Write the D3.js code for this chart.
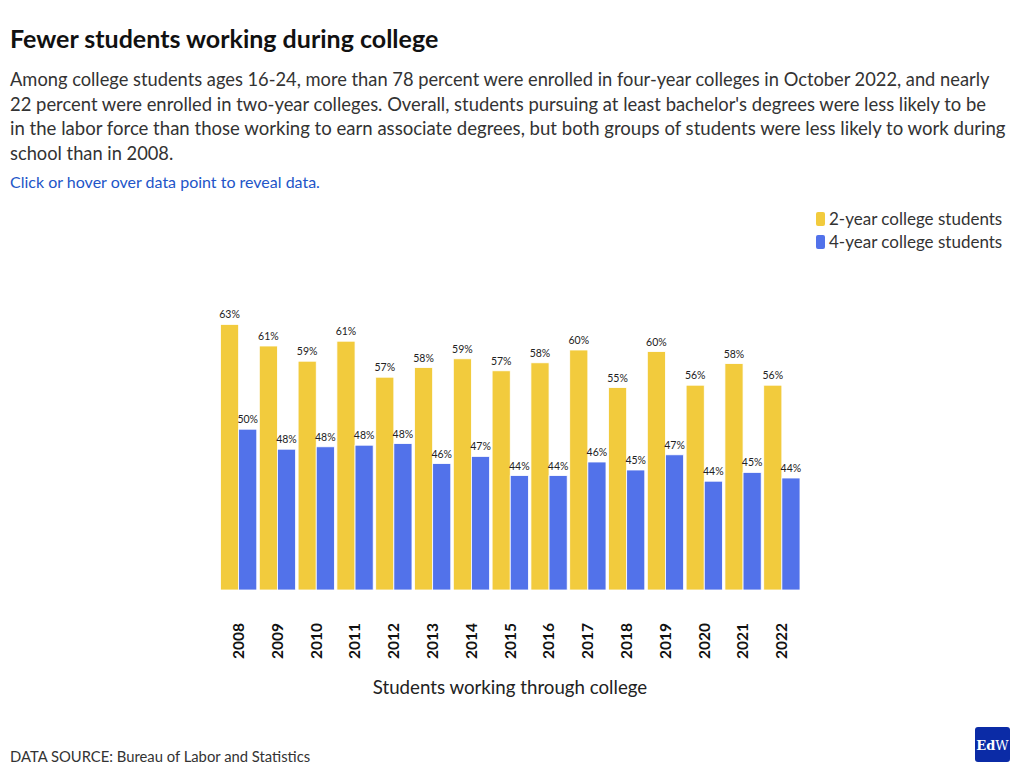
<!DOCTYPE html>
<html>
<head>
<meta charset="utf-8">
<script src="https://cdn.jsdelivr.net/npm/d3@7"></script>
<style>
  html, body { margin: 0; padding: 0; background: #fff; }
  svg { display: block; font-family: "Lato", "Noto Sans", sans-serif; }
</style>
</head>
<body>
<svg id="chart" width="1020" height="776"></svg>
<script>
// ---- data ----
const years = ["2008","2009","2010","2011","2012","2013","2014","2015","2016","2017","2018","2019","2020","2021","2022"];
const seriesNames = ["2-year college students", "4-year college students"];
const twoYear  = [63.2, 60.5, 58.6, 61.1, 56.6, 57.8, 58.9, 57.4, 58.4, 60.0, 55.3, 59.8, 55.6, 58.3, 55.6];
const fourYear = [50.1, 47.6, 47.9, 48.1, 48.3, 45.8, 46.7, 44.3, 44.3, 46.0, 45.0, 46.9, 43.6, 44.7, 44.0];
const yDomain = [30, 65];

const titleText = "Fewer students working during college";
const subtitleLines = [
  "Among college students ages 16-24, more than 78 percent were enrolled in four-year colleges in October 2022, and nearly",
  "22 percent were enrolled in two-year colleges. Overall, students pursuing at least bachelor's degrees were less likely to be",
  "in the labor force than those working to earn associate degrees, but both groups of students were less likely to work during",
  "school than in 2008."
];
const hintText = "Click or hover over data point to reveal data.";
const xTitle = "Students working through college";
const sourceText = "DATA SOURCE: Bureau of Labor and Statistics";

const colors = ["#F2CB3D", "#5272EA"];

const svg = d3.select("#chart");

// ---- header ----
svg.append("text").attr("x", 10).attr("y", 48)
  .attr("font-size", 25).attr("font-weight", 700).attr("fill", "#111")
  .text(titleText);

const sub = svg.append("text").attr("font-size", 18).attr("fill", "#333");
subtitleLines.forEach((l, i) => {
  sub.append("tspan").attr("x", 10).attr("y", 86 + i * 24.7).text(l);
});
// fit line widths to reference wrap
const targetW = [980, 977, 996, 163];
sub.selectAll("tspan").each(function(d, i) {
  const w = this.getComputedTextLength();
  const fs = 18 * targetW[i] / w;
  if (i < 3) d3.select(this).attr("font-size", Math.min(19, fs));
});
const fs0 = d3.select(sub.selectAll("tspan").nodes()[0]).attr("font-size");
d3.select(sub.selectAll("tspan").nodes()[3]).attr("font-size", fs0);

svg.append("text").attr("x", 10).attr("y", 188)
  .attr("font-size", 16).attr("fill", "#2255C8")
  .text(hintText);

// ---- legend ----
const legend = svg.append("g");
seriesNames.forEach((n, i) => {
  const y = 219 + i * 23;
  legend.append("rect").attr("x", 816).attr("y", y - 7).attr("width", 9).attr("height", 14)
    .attr("rx", 2).attr("fill", colors[i]);
  legend.append("text").attr("x", 829).attr("y", y + 6)
    .attr("font-size", 17).attr("fill", "#333").text(n);
});

// ---- scales ----
const x0 = d3.scaleBand().domain(years).range([220.5, 800]).paddingInner(0.065).paddingOuter(0);
const x1 = d3.scaleBand().domain([0, 1]).range([0, x0.bandwidth()]).padding(0);
const y = d3.scaleLinear().domain(yDomain).range([590, 310]);

const data = years.map((yr, i) => ({ year: yr, values: [twoYear[i], fourYear[i]] }));

const groups = svg.append("g").selectAll("g").data(data).join("g")
  .attr("transform", d => `translate(${x0(d.year)},0)`);

groups.selectAll("rect").data(d => d.values.map((v, k) => ({ v, k }))).join("rect")
  .attr("x", d => x1(d.k))
  .attr("y", d => y(d.v))
  .attr("width", x1.bandwidth())
  .attr("height", d => y(yDomain[0]) - y(d.v))
  .attr("fill", d => colors[d.k])
  .attr("stroke", "#fff").attr("stroke-width", 0.8);

groups.selectAll("text.val").data(d => d.values.map((v, k) => ({ v, k }))).join("text")
  .attr("class", "val")
  .attr("x", d => x1(d.k) + x1.bandwidth() / 2)
  .attr("y", d => y(d.v) - 6)
  .attr("text-anchor", "middle")
  .attr("font-size", 10.5).attr("fill", "#222")
  .text(d => Math.round(d.v) + "%");

// ---- x axis ----
const xAxis = svg.append("g").attr("transform", "translate(0,590)")
  .call(d3.axisBottom(x0).tickSize(0).tickPadding(0));
xAxis.select(".domain").remove();
xAxis.selectAll(".tick text")
  .attr("transform", "translate(0,51) rotate(-90)")
  .attr("dy", "0.35em").attr("y", 0).attr("x", 0)
  .attr("text-anchor", "middle")
  .attr("font-family", "Lato, sans-serif")
  .attr("font-size", 15.5).attr("font-weight", 700).attr("fill", "#111");

svg.append("text").attr("x", 510).attr("y", 694)
  .attr("text-anchor", "middle").attr("font-size", 18.7).attr("fill", "#222")
  .text(xTitle);

// ---- footer ----
svg.append("text").attr("x", 10).attr("y", 762)
  .attr("font-size", 14.8).attr("fill", "#333").text(sourceText);

const logo = svg.append("g").attr("transform", "translate(975,727)");
logo.append("rect").attr("width", 35).attr("height", 35).attr("rx", 3).attr("fill", "#0B2BA6");
const lt = logo.append("text").attr("x", 17.5).attr("y", 23).attr("text-anchor", "middle")
  .attr("font-family", "'DejaVu Serif', 'Liberation Serif', serif").attr("font-size", 13).attr("fill", "#fff");
lt.append("tspan").attr("font-weight", 700).text("Ed");
lt.append("tspan").attr("font-weight", 400).text("W");
</script>
</body>
</html>
